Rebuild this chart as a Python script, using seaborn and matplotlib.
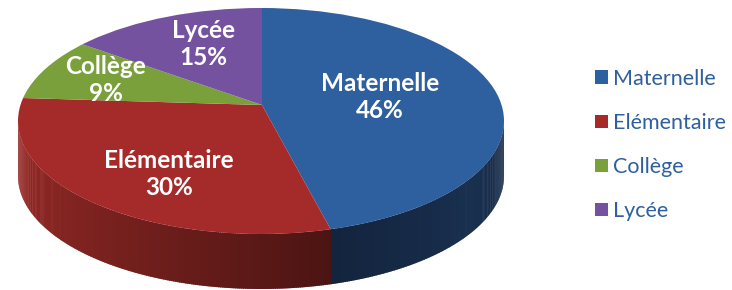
import numpy as np
import matplotlib
matplotlib.use("Agg")
import matplotlib.pyplot as plt
import matplotlib.colors as mcolors
from matplotlib.patches import Circle
import seaborn as sns

# données
categories = ["Maternelle", "Elémentaire", "Collège", "Lycée"]
shares = [46, 30, 9, 15]
pct_labels = ["46%", "30%", "9%", "15%"]

top_colors = ["#2e5f9e", "#a52b2a", "#7aa03b", "#7552a0"]
side_light = ["#19304f", "#982a27", "#5b7a2b", "#55397a"]
side_dark = ["#12223b", "#4a1412", "#3f561d", "#3b2656"]

sns.set_theme(style="white")
plt.rcParams["font.family"] = ["Lato", "DejaVu Sans"]

W, H = 732, 290
fig = plt.figure(figsize=(W / 100, H / 100), dpi=100)
ax = fig.add_axes([0, 0, 1, 1])

# ellipse du dessus (en pixels) -> écrasement vertical
rx, ry = 243, 113
s = ry / rx
cx, cy = 261, (H - 121) / s
depth = 55 / s
# sommet des parts (perspective : plus haut que le centre)
vx, vy = 262, (H - 105) / s

cum = np.cumsum([0] + shares) / sum(shares) * 360
starts = 90 - cum[:-1]
ends = 90 - cum[1:]


def rim_angle(theta_deg):
    # angle sur l'ellipse où le rayon partant du sommet touche le bord
    d = np.array([np.cos(np.radians(theta_deg)), np.sin(np.radians(theta_deg))])
    v = np.array([(vx - cx) / rx, (vy - cy) / rx])
    b = v @ d
    t = -b + np.sqrt(b * b - v @ v + 1)
    p = v + t * d
    return np.degrees(np.arctan2(p[1], p[0]))


# parois latérales (moitié avant seulement)
for i in range(len(shares)):
    a_hi = rim_angle(starts[i])
    a_lo = rim_angle(ends[i])
    while a_hi < a_lo:
        a_hi += 360
    grid = np.arange(a_lo, a_hi + 0.5, 0.5)
    grid[-1] = a_hi
    c1 = np.array(mcolors.to_rgb(side_light[i]))
    c2 = np.array(mcolors.to_rgb(side_dark[i]))
    for a0, a1 in zip(grid[:-1], grid[1:]):
        am = np.radians((a0 + a1) / 2)
        if np.sin(am) >= 0.02:
            continue
        t0, t1 = np.radians(a0), np.radians(a1 + 0.3)
        xs = [cx + rx * np.cos(t0), cx + rx * np.cos(t1), cx + rx * np.cos(t1), cx + rx * np.cos(t0)]
        ys = [cy + rx * np.sin(t0), cy + rx * np.sin(t1), cy + rx * np.sin(t1) - depth, cy + rx * np.sin(t0) - depth]
        deg = np.degrees(am) % 360
        if i == 1:
            f = np.clip((deg - 180) / 108, 0, 1) ** 1.2
        else:
            f = np.clip(abs(deg - 330) / 50, 0, 1)
        col = c1 * (1 - f) + c2 * f
        ax.fill(xs, ys, color=col, lw=0, zorder=1)

wedges, _ = ax.pie(shares, colors=top_colors, startangle=90, counterclock=False,
                   center=(vx, vy), radius=rx * 1.3, normalize=True,
                   wedgeprops=dict(edgecolor="none", linewidth=0))

ax.set_aspect("auto")
ax.set_xlim(0, W)
ax.set_ylim(0, H / s)
ax.axis("off")

clip = Circle((cx, cy), rx, facecolor="none", edgecolor="none")
ax.add_patch(clip)
for w in wedges:
    w.set_zorder(2)
    w.set_clip_on(True)
    w.set_clip_path(clip)

# étiquettes (angle, distance depuis le sommet)
label_ang = [8, -122, 161, 114]
label_r = [0.49, 0.72, 0.68, 0.59]
for i in range(len(shares)):
    mid = np.radians(label_ang[i])
    tx = vx + label_r[i] * rx * np.cos(mid)
    ty = vy + label_r[i] * rx * np.sin(mid)
    ax.text(tx, ty, f"{categories[i]}\n{pct_labels[i]}", ha="center", va="center",
            color="white", fontsize=17.5, fontweight="bold", linespacing=1.22, zorder=5)

leg = ax.legend(wedges, categories, loc="center left", bbox_to_anchor=(0.786, 0.5),
                frameon=False, fontsize=15.5, labelcolor="#2e5f9e",
                handlelength=0.6, handleheight=0.6, handletextpad=0.25,
                labelspacing=1.12)

fig.savefig("out.png", dpi=100)
